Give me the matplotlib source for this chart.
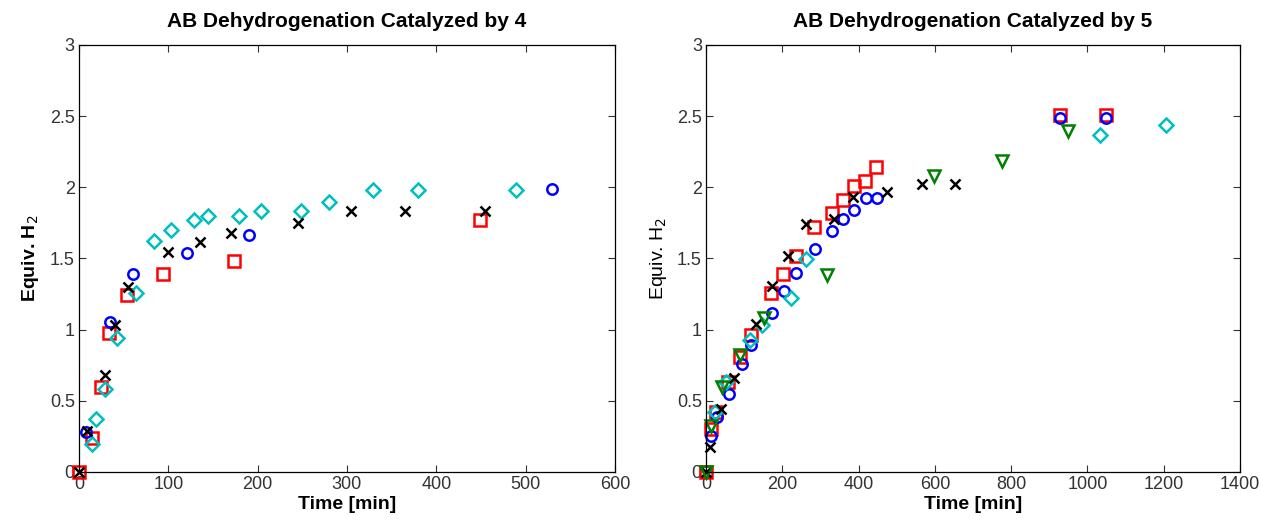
"""Recreate the two AB dehydrogenation kinetics panels (catalysts 4 and 5)."""

import matplotlib
matplotlib.use("Agg")
import matplotlib.pyplot as plt

plt.rcParams["font.family"] = ["Liberation Sans", "DejaVu Sans"]

# ---- catalyst 4 (left panel) ----
c4_blue_t = [8, 35, 61, 121, 190, 530]
c4_blue_y = [0.28, 1.055, 1.39, 1.54, 1.665, 1.985]

c4_red_t = [0, 14.5, 24.5, 34, 54, 94, 174, 449]
c4_red_y = [0.0, 0.24, 0.60, 0.975, 1.24, 1.39, 1.48, 1.767]

c4_black_t = [0, 9.5, 29, 40, 55, 100, 135, 170, 245, 305, 365, 455]
c4_black_y = [0.0, 0.29, 0.68, 1.03, 1.30, 1.545, 1.615, 1.68, 1.75, 1.83, 1.83, 1.83]

c4_cyan_t = [14.5, 19.5, 29, 43, 64, 83.5, 103.5, 129, 144, 179.5, 203.5, 249,
             280, 329, 379, 489.5]
c4_cyan_y = [0.20, 0.37, 0.58, 0.94, 1.255, 1.62, 1.70, 1.77, 1.80, 1.80, 1.83, 1.83,
             1.896, 1.98, 1.98, 1.98]

# ---- catalyst 5 (right panel) ----
c5_red_t = [0, 12, 26, 57, 90, 117, 170, 202, 235, 283, 330, 358, 388, 418, 446,
            928, 1048]
c5_red_y = [0.0, 0.30, 0.42, 0.63, 0.805, 0.96, 1.255, 1.39, 1.52, 1.72, 1.82, 1.91,
            2.01, 2.045, 2.145, 2.505, 2.505]

c5_blue_t = [14, 28, 60, 93, 118, 172, 204, 235, 285, 331, 359, 389, 419, 448, 928, 1048]
c5_blue_y = [0.252, 0.385, 0.548, 0.758, 0.89, 1.12, 1.27, 1.40, 1.567, 1.695, 1.777,
             1.84, 1.924, 1.924, 2.49, 2.49]

c5_cyan_t = [23, 52, 114, 146, 222, 261, 1032, 1207]
c5_cyan_y = [0.424, 0.63, 0.93, 1.03, 1.222, 1.497, 2.365, 2.435]

c5_black_t = [0, 9.5, 38.5, 74, 130, 174, 214, 263, 334.5, 385, 473.5, 565, 653]
c5_black_y = [0.0, 0.175, 0.443, 0.66, 1.038, 1.306, 1.52, 1.744, 1.777, 1.93, 1.966,
              2.022, 2.022]

c5_green_t = [0, 12, 42, 89, 153, 318, 598.5, 776, 949]
c5_green_y = [0.0, 0.32, 0.60, 0.82, 1.085, 1.383, 2.08, 2.185, 2.395]

x_ticks_4 = [0, 100, 200, 300, 400, 500, 600]
x_ticks_5 = [0, 200, 400, 600, 800, 1000, 1200, 1400]
y_ticks = [0, 0.5, 1, 1.5, 2, 2.5, 3]
y_tick_labels = ["0", "0.5", "1", "1.5", "2", "2.5", "3"]

BLUE = "#0000FF"
RED = "#FF0000"
BLACK = "#000000"
CYAN = "#00BFBF"
GREEN = "#008000"


def scatter(ax, t, y, marker, color, size):
    ax.plot(t, y, linestyle="none", marker=marker, markersize=size,
            markerfacecolor="none", markeredgecolor=color, markeredgewidth=1.8,
            clip_on=False)


def style_axes(ax, xticks, xmax, title, bold_ylabel):
    ax.set_xlim(0, xmax)
    ax.set_ylim(0, 3)
    ax.set_xticks(xticks)
    ax.set_xticklabels([str(v) for v in xticks])
    ax.set_yticks(y_ticks)
    ax.set_yticklabels(y_tick_labels)
    ax.tick_params(direction="in", top=True, right=True, length=5, width=0.8,
                   labelsize=13, colors="#333333", pad=3)
    for spine in ax.spines.values():
        spine.set_linewidth(0.9)
    ax.set_title(title, fontsize=15, fontweight="bold", pad=13)
    ax.set_xlabel("Time [min]", fontsize=14, fontweight="bold", labelpad=2)
    ax.set_ylabel("Equiv. H$_2$", fontsize=14,
                  fontweight="bold" if bold_ylabel else "normal", labelpad=6)


fig = plt.figure(figsize=(12.61, 5.27), dpi=100)
ax1 = fig.add_axes([0.0626, 0.1044, 0.4251, 0.8103])
ax2 = fig.add_axes([0.5599, 0.1044, 0.4235, 0.8103])

scatter(ax1, c4_red_t, c4_red_y, "s", RED, 9)
scatter(ax1, c4_blue_t, c4_blue_y, "o", BLUE, 7.5)
scatter(ax1, c4_cyan_t, c4_cyan_y, "D", CYAN, 7)
scatter(ax1, c4_black_t, c4_black_y, "x", BLACK, 6.5)
style_axes(ax1, x_ticks_4, 600, "AB Dehydrogenation Catalyzed by 4", True)

scatter(ax2, c5_red_t, c5_red_y, "s", RED, 9)
scatter(ax2, c5_blue_t, c5_blue_y, "o", BLUE, 7.5)
scatter(ax2, c5_cyan_t, c5_cyan_y, "D", CYAN, 7)
scatter(ax2, c5_black_t, c5_black_y, "x", BLACK, 6.5)
scatter(ax2, c5_green_t, c5_green_y, "v", GREEN, 8.5)
style_axes(ax2, x_ticks_5, 1400, "AB Dehydrogenation Catalyzed by 5", False)

fig.savefig("out.png", dpi=100)
